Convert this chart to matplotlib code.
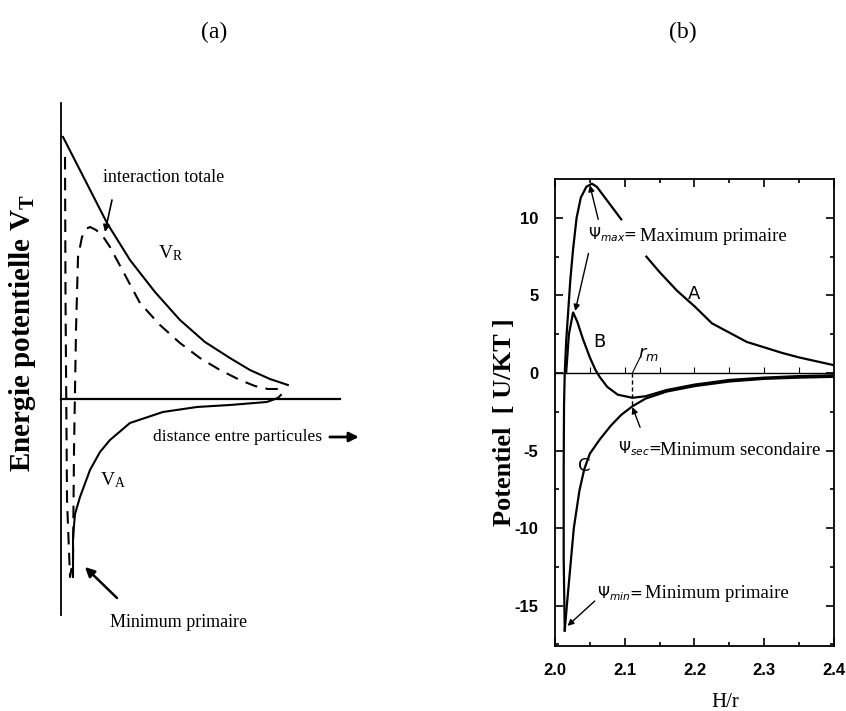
import numpy as np
import matplotlib
matplotlib.use("Agg")
from matplotlib import pyplot as plt

SERIF = ['Liberation Serif', 'DejaVu Serif']
NARROW = ['Liberation Sans Narrow', 'Liberation Sans', 'DejaVu Sans']

# ---- panel (a): schematic DLVO curves (arbitrary units) ----
vr_x = [0.2, 2.4, 4.6, 6.9, 9.4, 11.9, 14.4, 16.9, 18.9, 20.9, 22.7]
vr_y = [26.2, 21.9, 17.6, 13.9, 10.7, 7.9, 5.7, 4.1, 2.9, 2.0, 1.4]

tot_x = [0.4, 0.45, 0.6, 0.9, 1.2, 1.3, 1.5, 1.7, 2.1, 2.5, 2.9, 3.5, 4.1, 4.9,
         6.4, 7.9, 9.9, 11.9, 13.9, 15.9, 17.9, 19.4, 20.7, 21.7, 22.2]
tot_y = [24.2, 9.9, -10.1, -17.8, -16.1, -5.1, 6.9, 14.2, 16.2, 17.0, 17.2, 16.9,
         16.4, 15.2, 12.4, 9.6, 7.4, 5.6, 4.1, 2.9, 1.9, 1.3, 1.0, 1.0, 1.3]

va_x = [1.2, 1.2, 1.4, 1.9, 2.9, 3.9, 4.9, 6.9, 10.2, 13.6, 16.9, 20.6, 21.7, 22.0]
va_y = [-17.8, -13.8, -11.5, -9.8, -7.1, -5.3, -4.1, -2.4, -1.3, -0.8, -0.6, -0.3, 0.1, 0.4]

# ---- panel (b): potential vs H/r ----
a_x = [2.014, 2.0125, 2.0125, 2.013, 2.014, 2.016, 2.019, 2.022, 2.026, 2.031,
       2.037, 2.045, 2.053, 2.06, 2.07, 2.08, 2.095]
a_y = [-16.6, -12, -6, -2, 0, 2.0, 4.0, 6.0, 8.0, 10.0, 11.3, 12.0, 12.2, 12.0,
       11.4, 10.8, 9.9]
a2_x = [2.131, 2.15, 2.175, 2.2, 2.225, 2.25, 2.275, 2.3, 2.325, 2.35, 2.375, 2.4]
a2_y = [7.5, 6.5, 5.3, 4.3, 3.2, 2.6, 2.0, 1.65, 1.3, 1.0, 0.75, 0.5]

b_x = [2.016, 2.02, 2.026, 2.032, 2.04, 2.05, 2.058, 2.064, 2.075, 2.09, 2.111,
       2.13, 2.16, 2.2, 2.25, 2.3, 2.35, 2.4]
b_y = [0, 2.5, 3.9, 3.3, 2.2, 1.0, 0.2, -0.25, -0.9, -1.4, -1.6, -1.5, -1.1,
       -0.75, -0.45, -0.3, -0.2, -0.15]

c_x = [2.014, 2.017, 2.022, 2.027, 2.035, 2.042, 2.05, 2.064, 2.08, 2.095, 2.111,
       2.13, 2.16, 2.2, 2.25, 2.3, 2.35, 2.4]
c_y = [-16.6, -15, -12.5, -10, -7.6, -6.2, -5.2, -4.3, -3.4, -2.7, -2.15, -1.65,
       -1.2, -0.85, -0.55, -0.38, -0.3, -0.25]

r_m = 2.111
psi_sec = -2.15
x_ticks = [2.0, 2.1, 2.2, 2.3, 2.4]
y_ticks = [-15, -10, -5, 0, 5, 10]
zero_ticks = [2.05, 2.1, 2.15, 2.2, 2.25, 2.3, 2.35]

fig = plt.figure(figsize=(8.46, 7.11), dpi=100)

# ------------------ panel (a) ------------------
axa = fig.add_axes([0.0485, 0.0872, 0.378, 0.7736])
axa.set_xlim(-2, 30)
axa.set_ylim(-25, 30)
axa.axis('off')

axa.plot([0, 0], [-21.6, 29.6], color='k', lw=1.3)
axa.plot([0, 27.9], [0, 0], color='k', lw=1.6)
axa.plot(vr_x, vr_y, color='k', lw=1.5)
axa.plot(tot_x, tot_y, color='k', lw=1.5, ls=(0, (6, 4)))
axa.plot(va_x, va_y, color='k', lw=1.5)

axa.text(4.2, 22.1, 'interaction totale', family=SERIF, fontsize=13, va='center')
axa.annotate('', xy=(4.4, 16.7), xytext=(5.1, 19.9),
             arrowprops=dict(arrowstyle='-|>', color='k', lw=1.2, mutation_scale=10,
                             shrinkA=0, shrinkB=0))
axa.text(9.7, 14.6, r'$\mathregular{V_R}$', family=SERIF, fontsize=14, va='center')
axa.text(3.9, -8.1, r'$\mathregular{V_A}$', family=SERIF, fontsize=14, va='center')
axa.text(9.2, -3.8, 'distance entre particules', family=SERIF, fontsize=12.6, va='center')
axa.annotate('', xy=(29.8, -3.8), xytext=(26.9, -3.8),
             arrowprops=dict(arrowstyle='-|>', color='k', lw=2, mutation_scale=14,
                             shrinkA=0, shrinkB=0))
axa.text(4.9, -22.4, 'Minimum primaire', family=SERIF, fontsize=13, va='center')
axa.annotate('', xy=(2.4, -16.8), xytext=(5.6, -19.9),
             arrowprops=dict(arrowstyle='-|>', color='k', lw=1.8, mutation_scale=14,
                             shrinkA=0, shrinkB=0))
axa.text(-3.9, 6.6, r'Energie potentielle $\mathregular{V_T}$', family=SERIF,
         fontsize=21, fontweight='bold', rotation=90, ha='center', va='center')

# ------------------ panel (b) ------------------
axb = fig.add_axes([0.656, 0.0914, 0.3298, 0.6568])
axb.set_xlim(2.0, 2.4)
axb.set_ylim(-17.6, 12.5)
axb.axhline(0, color='k', lw=1.0)
# small ticks sitting on the zero line
axb.plot(zero_ticks, np.zeros(len(zero_ticks)), ls='none', marker=2,
         markersize=4, color='k', mew=0.8)
axb.plot(a_x, a_y, color='k', lw=1.6)
axb.plot(a2_x, a2_y, color='k', lw=1.6)
axb.plot(b_x, b_y, color='k', lw=1.6)
axb.plot(c_x, c_y, color='k', lw=1.6)
axb.plot([r_m, r_m], [0, psi_sec], color='k', lw=1.0, ls=(0, (3, 2)))

axb.set_xticks(x_ticks)
axb.set_yticks(y_ticks)
axb.set_xticklabels(['%.1f' % t for t in x_ticks])
axb.set_yticklabels(['%d' % t for t in y_ticks])
axb.set_xticks([2.05, 2.15, 2.25, 2.35], minor=True)
axb.set_yticks([-17.5, -12.5, -7.5, -2.5, 2.5, 7.5], minor=True)
axb.tick_params(which='both', direction='in', top=True, right=True, width=1.2)
axb.tick_params(which='major', length=6, pad=12)
axb.tick_params(which='minor', length=3)
for lab in axb.get_xticklabels() + axb.get_yticklabels():
    lab.set_family(NARROW)
    lab.set_fontsize(12)
    lab.set_fontweight('bold')
for s in axb.spines.values():
    s.set_linewidth(1.3)

axb.set_xlabel('H/r', family=SERIF, fontsize=15, va='center')
axb.xaxis.set_label_coords(0.61, -0.12)
axb.set_ylabel('Potentiel  [ U/KT ]', family=SERIF, fontsize=19, fontweight='bold')
axb.yaxis.set_label_coords(-0.14, 0.48)

arr = dict(arrowstyle='-|>', color='k', lw=1.0, mutation_scale=9, shrinkA=0, shrinkB=0)
axb.text(2.047, 8.9, r'$\Psi_{max}$=', fontsize=11, va='center')
axb.text(2.122, 8.8, 'Maximum primaire', family=SERIF, fontsize=13.5, va='center')
axb.annotate('', xy=(2.050, 12.1), xytext=(2.062, 9.9), arrowprops=arr)
axb.annotate('', xy=(2.029, 4.0), xytext=(2.048, 7.7), arrowprops=arr)

axb.text(2.2, 5.1, 'A', fontsize=13, ha='center', va='center')
axb.text(2.064, 2.0, 'B', fontsize=13, ha='center', va='center')
axb.text(2.042, -6.0, 'C', fontsize=13, ha='center', va='center')

axb.text(2.119, 1.2, r'$r_m$', fontsize=13, va='center')
axb.plot([2.122, r_m], [1.0, 0], color='k', lw=0.8)

axb.text(2.090, -4.9, r'$\Psi_{sec}$=', fontsize=11, va='center')
axb.text(2.151, -5.0, 'Minimum secondaire', family=SERIF, fontsize=13.5, va='center')
axb.annotate('', xy=(r_m, -2.2), xytext=(2.122, -3.5), arrowprops=arr)

axb.text(2.060, -14.2, r'$\Psi_{min}$=', fontsize=11, va='center')
axb.text(2.129, -14.2, 'Minimum primaire', family=SERIF, fontsize=13.5, va='center')
axb.annotate('', xy=(2.018, -16.3), xytext=(2.057, -14.7), arrowprops=arr)

fig.text(214 / 846, 1 - 32 / 711, '(a)', family=SERIF, fontsize=17, ha='center', va='center')
fig.text(683 / 846, 1 - 32 / 711, '(b)', family=SERIF, fontsize=17, ha='center', va='center')

fig.savefig('out.png', dpi=100)
